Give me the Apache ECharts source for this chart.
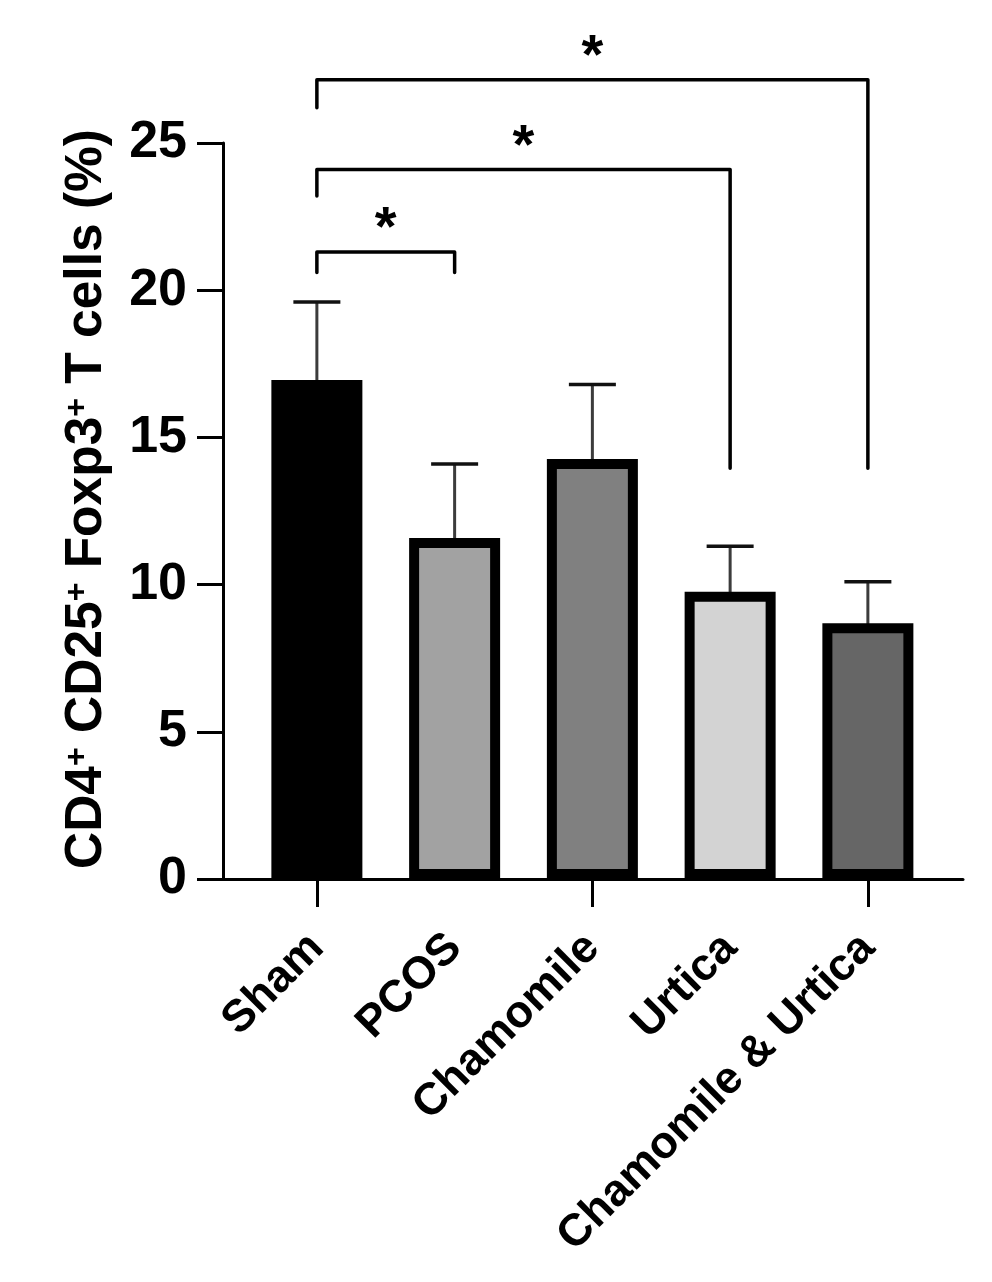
<!DOCTYPE html>
<html><head><meta charset="utf-8">
<script src="https://cdn.jsdelivr.net/npm/echarts@6/dist/echarts.min.js"></script>
<style>html,body{margin:0;padding:0;background:#fff}#c{width:992px;height:1282px}</style>
</head><body><div id="c"></div>
<script>
// ---- data ----
const categories = ['Sham', 'PCOS', 'Chamomile', 'Urtica', 'Chamomile & Urtica'];
const means = [16.95, 11.58, 14.27, 9.76, 8.69];
const errorTops = [19.6, 14.1, 16.8, 11.3, 10.1];
const barColors = ['#000000', '#a2a2a2', '#808080', '#d3d3d3', '#666666'];
const yTicks = [0, 5, 10, 15, 20, 25];
// significance brackets (category indices and levels in axis units)
const bracketFrom = [0, 0, 0];
const bracketTo = [1, 3, 4];
const bracketLevel = [21.3, 24.1, 27.15];
const bracketLeftEnd = [20.6, 23.2, 26.2];
const bracketRightEnd = [20.6, 13.95, 13.95];
const bracketMarks = ['*', '*', '*'];

// ---- chart ----
const FONT = '"Liberation Sans", Arial, Helvetica, sans-serif';
const chart = echarts.init(document.getElementById('c'), null, {renderer: 'canvas'});
const GT = 143, GH = 736;
const option = {
  animation: false,
  backgroundColor: '#ffffff',
  grid: [
    {left: 248, top: GT, width: 688.75, height: GH},
    {left: 223, top: GT, width: 740, height: GH},
    {left: 248, top: GT, width: 688.75, height: GH}
  ],
  xAxis: [
    {gridIndex: 0, type: 'category', data: categories,
     axisLine: {show: false},
     axisTick: {show: true, alignWithLabel: true, length: 28, lineStyle: {color: '#000', width: 3}},
     axisLabel: {show: false}, splitLine: {show: false}},
    {gridIndex: 1, type: 'value', min: 0, max: 1,
     axisLine: {show: true, onZero: false, lineStyle: {color: '#000', width: 3}},
     axisTick: {show: false}, axisLabel: {show: false}, splitLine: {show: false}},
    {gridIndex: 2, type: 'category', data: categories,
     axisLine: {show: false}, axisTick: {show: false}, splitLine: {show: false},
     axisLabel: {interval: 0, rotate: 45, margin: 62, fontSize: 45, fontWeight: 'bold',
                 color: '#000', fontFamily: FONT}}
  ],
  yAxis: [
    {gridIndex: 0, type: 'value', min: 0, max: 25, show: false},
    {gridIndex: 1, type: 'value', min: 0, max: 25, interval: 5,
     axisLine: {show: true, lineStyle: {color: '#000', width: 3}},
     axisTick: {show: true, length: 26, lineStyle: {color: '#000', width: 3}},
     axisLabel: {margin: 36, fontSize: 52, fontWeight: 'bold', color: '#000', fontFamily: FONT,
                 formatter: v => (yTicks.indexOf(v) >= 0 ? String(v) : '')},
     splitLine: {show: false},
     name: 'CD4{s|+} CD25{s|+} Foxp3{s|+} T cells (%)',
     nameLocation: 'middle', nameGap: 110,
     nameTextStyle: {fontSize: 51.5, fontWeight: 'bold', color: '#000', fontFamily: FONT,
       padding: [0, 0, 0, 24],
       rich: {s: {fontSize: 32, fontWeight: 'bold', color: '#000', fontFamily: FONT, verticalAlign: 'top'}}}},
    {gridIndex: 2, type: 'value', min: 0, max: 25, show: false}
  ],
  series: [
    {type: 'custom', xAxisIndex: 0, yAxisIndex: 0, z: 2, clip: false,
     data: means.map((m, i) => [i, m, errorTops[i]]),
     encode: {x: 0, y: [1, 2]},
     renderItem: function (params, api) {
       const i = api.value(0);
       const b = api.coord([i, api.value(1)]);
       const t = api.coord([i, api.value(2)]);
       return {type: 'group', children: [
         {type: 'line', shape: {x1: b[0], y1: b[1] + 6, x2: t[0], y2: t[1]}, style: {stroke: '#3c3c3c', lineWidth: 3}},
         {type: 'line', shape: {x1: t[0] - 23.5, y1: t[1], x2: t[0] + 23.5, y2: t[1]}, style: {stroke: '#111', lineWidth: 3.5}}
       ]};
     }},
    {type: 'bar', xAxisIndex: 0, yAxisIndex: 0, z: 3, barWidth: 91,
     data: means.map((v, i) => ({value: v, itemStyle: {color: barColors[i]}})),
     itemStyle: {borderColor: '#000', borderWidth: 10}},
    {type: 'custom', xAxisIndex: 0, yAxisIndex: 0, z: 4, clip: false,
     data: bracketFrom.map((f, i) => [f, bracketTo[i], bracketLevel[i], bracketLeftEnd[i], bracketRightEnd[i], bracketMarks[i]]),
     encode: {x: [0, 1], y: [2, 3, 4]},
     renderItem: function (params, api) {
       const f = api.value(0), t = api.value(1);
       const lv = api.value(2);
       const p1 = api.coord([f, api.value(3)]);
       const p2 = api.coord([f, lv]);
       const p3 = api.coord([t, lv]);
       const p4 = api.coord([t, api.value(4)]);
       const mark = bracketMarks[params.dataIndex];
       return {type: 'group', children: [
         {type: 'polyline', shape: {points: [p1, p2, p3, p4]},
          style: {stroke: '#000', lineWidth: 3.5, fill: null, lineJoin: 'round', lineCap: 'round'}},
         {type: 'text', x: (p2[0] + p3[0]) / 2, y: p2[1] - 22,
          style: {text: mark, font: 'bold 56px ' + FONT, fill: '#000', align: 'center', verticalAlign: 'middle'}}
       ]};
     }}
  ]
};
chart.setOption(option);
</script>
</body></html>
